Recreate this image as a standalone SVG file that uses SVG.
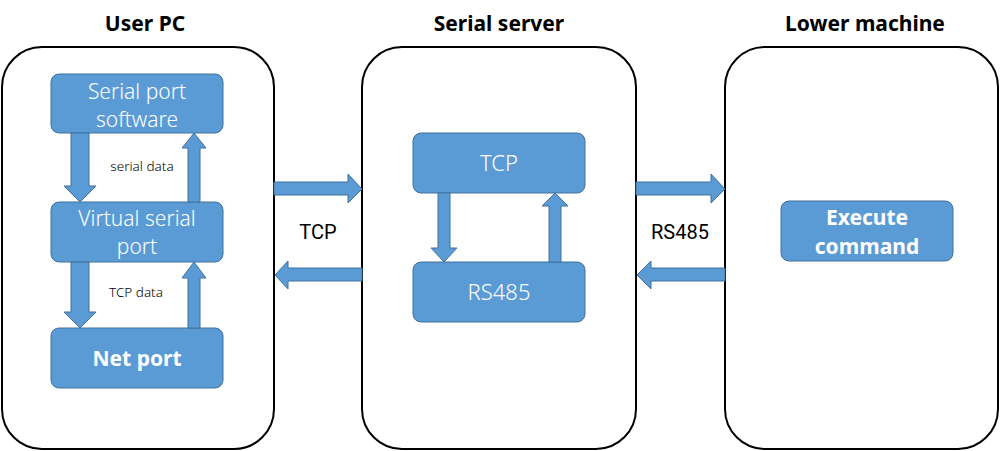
<svg xmlns="http://www.w3.org/2000/svg" width="1000" height="451" viewBox="0 0 1000 451">
<style>
.panel{fill:#fff;stroke:#000;stroke-width:2}
.box{fill:#5B9BD5;stroke:#41719C;stroke-width:1}
.arr{fill:#5B9BD5;stroke:#41719C;stroke-width:1}
.title{font-family:"Noto Sans","Open Sans",sans-serif;font-weight:bold;font-size:21px;fill:#000;text-anchor:middle}
.bt{font-family:"Noto Sans","Open Sans",sans-serif;font-weight:300;font-size:21px;fill:#fff;text-anchor:middle}
.bt2{font-family:"Noto Sans","Open Sans",sans-serif;font-weight:300;font-size:22px;fill:#fff;text-anchor:middle}
.btb{font-family:"Noto Sans","Open Sans",sans-serif;font-weight:bold;font-size:21px;fill:#fff;text-anchor:middle}
.lbl{font-family:"Noto Sans","Open Sans",sans-serif;font-weight:300;font-size:13.5px;fill:#000;text-anchor:middle}
.big{font-family:"Roboto","Noto Sans",sans-serif;font-size:20px;fill:#000;text-anchor:middle}
</style>
<rect width="1000" height="451" fill="#fff"/>
<g id="user-pc">
<rect class="panel" x="2" y="47" width="272" height="402" rx="40"/>
<text class="title" x="145" y="31">User PC</text>
</g>
<g id="serial-server">
<rect class="panel" x="362" y="47" width="274" height="402" rx="40"/>
<text class="title" x="499" y="31">Serial server</text>
</g>
<g id="lower-machine">
<rect class="panel" x="725" y="47" width="273" height="402" rx="40"/>
<text class="title" x="865" y="31">Lower machine</text>
</g>
<g id="serial-port-software">
<rect class="box" x="51" y="74" width="172" height="59" rx="8"/>
<text class="bt" x="137" y="99">Serial port</text>
<text class="bt" x="137" y="127">software</text>
</g>
<g id="virtual-serial-port">
<rect class="box" x="51" y="202" width="172" height="60" rx="8"/>
<text class="bt" x="137" y="226">Virtual serial</text>
<text class="bt" x="137" y="254">port</text>
</g>
<g id="net-port">
<rect class="box" x="51" y="328" width="172" height="60" rx="8"/>
<text class="btb" x="137" y="366">Net port</text>
</g>
<g id="tcp">
<rect class="box" x="413" y="133" width="172" height="60" rx="8"/>
<text class="bt2" x="499" y="171">TCP</text>
</g>
<g id="rs485">
<rect class="box" x="413" y="262" width="172" height="60" rx="8"/>
<text class="bt2" x="499" y="300">RS485</text>
</g>
<g id="execute-command">
<rect class="box" x="781" y="201" width="172" height="60" rx="8"/>
<text class="btb" x="867" y="225">Execute</text>
<text class="btb" x="867" y="254">command</text>
</g>
<g id="connectors">
<polygon class="arr" points="71,133 89,133 89,186 96,186 80,202 64,186 71,186"/>
<polygon class="arr" points="188,202 200,202 200,148 206,148 194,133 182,148 188,148"/>
<polygon class="arr" points="71,262 89,262 89,312 96,312 80,328 64,312 71,312"/>
<polygon class="arr" points="188,328 200,328 200,278 206,278 194,262 182,278 188,278"/>
<polygon class="arr" points="438,193 450,193 450,248 457,248 444,262 431,248 438,248"/>
<polygon class="arr" points="549,262 561,262 561,206 568,206 555,193 542,206 549,206"/>
<polygon class="arr" points="274,182 348,182 348,174 362,189 348,203 348,195 274,195"/>
<polygon class="arr" points="362,268 288,268 288,261 275,275 288,289 288,281 362,281"/>
<polygon class="arr" points="636,182 711,182 711,174 725,189 711,203 711,195 636,195"/>
<polygon class="arr" points="725,268 651,268 651,261 637,275 651,289 651,281 725,281"/>
</g>
<text class="lbl" x="142" y="171">serial data</text>
<text class="lbl" x="136" y="297">TCP data</text>
<text class="big" x="318" y="239">TCP</text>
<text class="big" x="680" y="239">RS485</text>
</svg>
